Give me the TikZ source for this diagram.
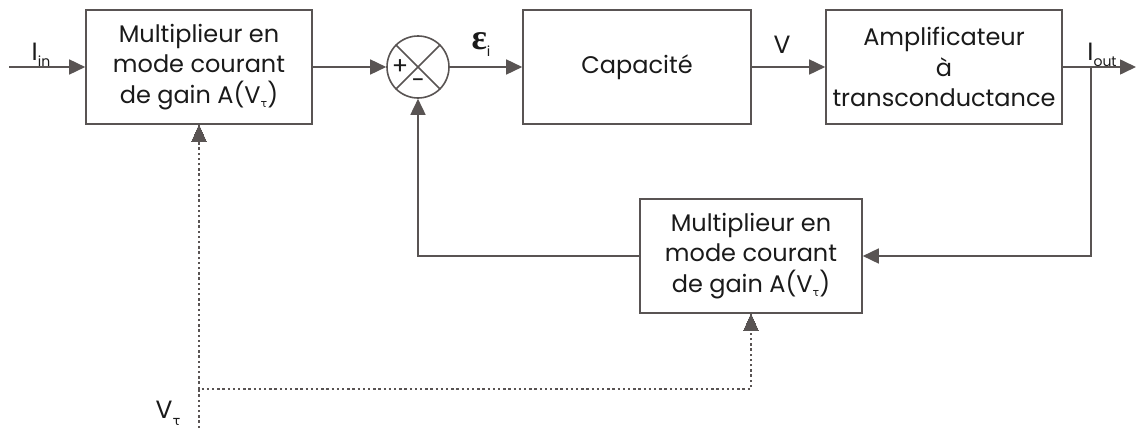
\documentclass[tikz,border=0pt]{standalone}
\usepackage{fontspec}
\setmainfont{Poppins}
\newfontfamily\gk{DejaVu Sans}
\newfontfamily\epsfont{Liberation Serif}
\usetikzlibrary{arrows.meta}
\definecolor{ln}{HTML}{595453}
\definecolor{tx}{HTML}{1A1A1A}
\tikzset{
  blk/.style={draw=ln, line width=1.6pt, minimum width=226pt, minimum height=114pt, align=center, font=\fontsize{24}{30.5}\selectfont, text=tx, inner sep=0pt},
  wire/.style={draw=ln, line width=1.6pt, -{Triangle[length=16pt,width=15pt]}},
  plain/.style={draw=ln, line width=1.6pt},
  dots/.style={draw=ln, line width=1.8pt, dash pattern=on 2.4pt off 2.8pt},
  lbl/.style={font=\fontsize{25}{26}\selectfont, text=tx, inner sep=0pt},
  tip/.style={draw=ln, line width=0pt, fill=ln}
}
\newcommand{\tausub}{{\gk\fontsize{11}{12}\selectfont τ}}
\begin{document}
\begin{tikzpicture}[x=1pt,y=-1pt]
\useasboundingbox (0,0) rectangle (1136,431);
\node[blk] (m1) at (199,67) {Multiplieur en\\mode courant\\de gain A(V\raisebox{-4pt}{\tausub})};
\node[blk, minimum width=228pt] (cap) at (637,67) {Capacité};
\node[blk, minimum width=236pt] (amp) at (944,67) {Amplificateur\\à\\transconductance};
\node[blk, minimum width=222pt] (m2) at (751,256) {Multiplieur en\\mode courant\\de gain A(V\raisebox{-4pt}{\tausub})};
\node[draw=ln, line width=1.6pt, circle, minimum size=62pt, inner sep=0pt] (sum) at (418,67) {};
\draw[plain] (sum.north west) -- (sum.south east);
\draw[plain] (sum.north east) -- (sum.south west);
\node[lbl, font=\fontsize{24}{24}\selectfont] (plus) at (400,67) {+};
\node[lbl, font=\fontsize{24}{24}\selectfont] (minus) at (418,84) {−};
\coordinate (in) at (9,67);
\coordinate (out) at (1136,67);
\coordinate (br) at (1091,67);
\coordinate (brd) at (1091,256);
\coordinate (fl) at (418,256);
\coordinate (vt) at (199,428);
\coordinate (vc) at (199,389);
\coordinate (vr) at (751,389);
\draw[wire] (in) -- (m1.west);
\draw[wire] (m1.east) -- (sum.west);
\draw[wire] (sum.east) -- (cap.west);
\draw[wire] (cap.east) -- (amp.west);
\draw[wire] (amp.east) -- (out);
\draw[wire] (br) -- (brd) -- (m2.east);
\draw[wire] (m2.west) -- (fl) -- (sum.south);
\draw[dots] (vt) -- (vc) -- (vr) -- ([yshift=-17pt]m2.south);
\draw[dots] (vc) -- ([yshift=-17pt]m1.south);
\draw[tip] (m1.south) -- ++(-7.5,17) -- ++(15,0) -- cycle;
\draw[tip] (m2.south) -- ++(-7.5,17) -- ++(15,0) -- cycle;
\node[lbl] (lin) at (41,55) {I\raisebox{-6pt}{\fontsize{14}{14}\selectfont in}};
\node[lbl] (leps) at (481,45) {{\epsfont\bfseries\fontsize{36}{36}\selectfont ε}\raisebox{-7pt}{\fontsize{14}{14}\selectfont i}};
\node[lbl] (lv) at (782,45) {V};
\node[lbl] (lout) at (1102,55) {I\raisebox{-6pt}{\fontsize{14}{14}\selectfont out}};
\node[lbl] (lvt) at (168,413) {V\raisebox{-7pt}{\gk\fontsize{13}{13}\selectfont τ}};
\end{tikzpicture}
\end{document}
